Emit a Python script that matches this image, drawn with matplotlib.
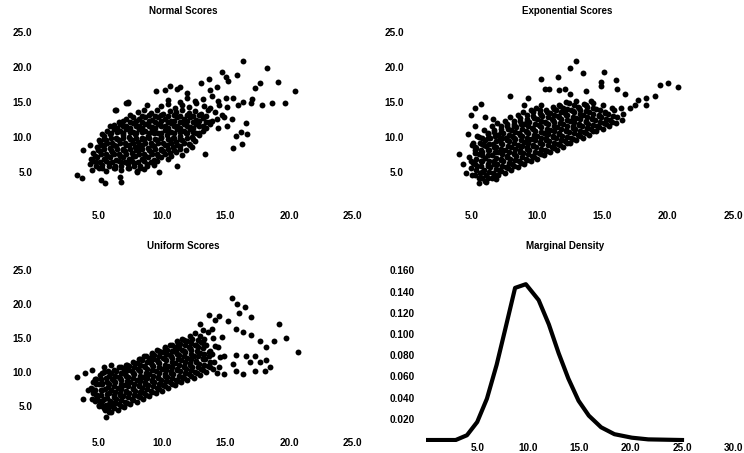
import numpy as np
import matplotlib.pyplot as plt

W, H = 744, 453

# points (outer scatter first, then the dense core)
normal_scores = [
    (16.4, 20.8), (18.3, 19.8), (14.7, 19.3), (19.1, 17.9), (20.5, 16.6), (15.9, 18.9),
    (15.0, 18.5), (15.2, 18.0), (13.7, 18.3), (17.7, 17.7), (17.3, 17.0), (14.3, 17.2),
    (13.1, 17.7), (11.4, 17.2), (11.2, 16.8), (10.6, 17.3), (9.5, 16.5), (10.2, 16.7),
    (13.8, 16.7), (12.0, 16.3), (17.1, 15.4), (16.4, 15.0), (17.9, 14.6), (18.7, 14.9),
    (19.7, 14.9), (17.0, 14.9), (15.6, 15.5), (16.0, 14.6), (7.3, 15.0), (7.3, 14.8),
    (6.4, 13.9), (5.9, 11.6), (5.3, 10.4), (5.0, 9.6), (3.8, 8.1), (4.3, 8.9),
    (3.3, 4.6), (3.7, 4.1), (5.5, 3.4), (5.2, 3.9), (6.7, 4.3), (6.8, 3.6),
    (8.0, 5.0), (9.8, 5.0), (11.2, 5.9), (13.4, 7.6), (15.6, 8.4), (16.3, 9.0),
    (15.8, 10.2), (16.7, 10.4), (16.2, 10.7), (16.6, 12.0), (15.5, 12.6), (15.1, 11.5),
    (12.0, 15.6), (12.6, 15.1), (13.2, 15.4), (13.9, 15.8), (14.4, 15.2), (11.4, 15.0),
    (10.5, 15.3), (15.0, 15.5),
    (9.9, 14.4), (10.5, 14.7), (11.0, 14.2), (11.6, 14.6), (12.1, 14.3), (12.7, 14.8),
    (13.3, 14.4), (13.8, 14.1), (14.5, 14.6), (15.1, 14.3), (7.2, 14.9), (8.8, 14.5),
    (8.1, 13.5), (8.6, 13.9), (9.1, 13.4), (9.6, 13.8), (10.1, 13.3), (10.6, 13.7),
    (11.1, 13.5), (11.6, 13.9), (12.1, 13.4), (12.6, 13.7), (13.1, 13.3), (13.6, 13.8),
    (14.2, 13.5), (14.7, 13.2), (7.5, 13.2), (6.3, 13.9),
    (7.2, 12.6), (7.7, 12.9), (8.2, 12.5), (8.7, 12.8), (9.2, 12.4), (9.7, 12.9),
    (10.2, 12.6), (10.7, 12.3), (11.2, 12.8), (11.7, 12.5), (12.2, 12.9), (12.7, 12.4),
    (13.2, 12.7), (13.7, 12.2), (14.3, 12.6), (14.9, 12.9), (6.6, 12.2),
    (6.2, 11.7), (6.7, 11.9), (7.2, 11.5), (7.7, 12.0), (8.2, 11.6), (8.7, 11.9),
    (9.2, 11.4), (9.7, 11.8), (10.2, 11.5), (10.7, 12.0), (11.2, 11.6), (11.7, 11.9),
    (12.2, 11.4), (12.7, 11.8), (13.2, 11.5), (13.8, 11.9), (14.4, 11.3),
    (5.7, 10.9), (6.2, 11.2), (6.7, 10.8), (7.2, 11.1), (7.7, 10.7), (8.2, 11.2),
    (8.7, 10.9), (9.2, 11.1), (9.7, 10.6), (10.2, 11.0), (10.7, 10.7), (11.2, 11.2),
    (11.7, 10.8), (12.2, 11.1), (12.7, 10.6), (13.2, 10.9),
    (5.4, 10.1), (5.9, 10.4), (6.4, 9.9), (6.9, 10.3), (7.4, 10.0), (7.9, 10.4),
    (8.4, 9.9), (8.9, 10.2), (9.4, 10.5), (9.9, 10.0), (10.4, 10.3), (10.9, 9.9),
    (11.4, 10.2), (11.9, 10.5), (12.4, 10.0), (12.9, 10.3),
    (5.1, 9.3), (5.6, 9.6), (6.1, 9.2), (6.6, 9.5), (7.1, 9.1), (7.6, 9.6),
    (8.1, 9.3), (8.6, 9.7), (9.1, 9.2), (9.6, 9.5), (10.1, 9.1), (10.6, 9.6),
    (11.1, 9.3), (11.6, 9.5), (12.1, 9.0), (12.6, 9.4),
    (4.9, 8.5), (5.4, 8.8), (5.9, 8.4), (6.4, 8.7), (6.9, 8.3), (7.4, 8.8),
    (7.9, 8.5), (8.4, 8.9), (8.9, 8.4), (9.4, 8.7), (9.9, 8.3), (10.4, 8.8),
    (10.9, 8.5), (11.4, 8.7), (11.9, 8.2), (12.4, 8.6),
    (4.6, 7.7), (5.1, 8.0), (5.6, 7.6), (6.1, 7.9), (6.6, 7.5), (7.1, 8.0),
    (7.6, 7.7), (8.1, 8.1), (8.6, 7.6), (9.1, 7.9), (9.6, 7.5), (10.1, 8.0),
    (10.6, 7.7), (11.1, 7.9), (11.6, 7.4),
    (4.4, 6.9), (4.9, 7.2), (5.4, 6.8), (5.9, 7.1), (6.4, 6.7), (6.9, 7.2),
    (7.4, 6.9), (7.9, 7.3), (8.4, 6.8), (8.9, 7.1), (9.4, 6.7), (9.9, 7.2), (10.5, 6.9),
    (4.3, 6.1), (4.8, 6.4), (5.3, 6.0), (5.8, 6.3), (6.3, 5.9), (6.8, 6.4),
    (7.3, 6.1), (7.8, 6.3), (8.3, 5.8), (8.8, 6.2), (9.4, 6.0),
    (4.5, 5.3), (5.0, 5.6), (5.6, 5.2), (6.2, 5.5), (6.8, 5.3), (7.4, 5.6),
    (8.0, 5.1), (8.6, 5.4),
]

# extra points inside the solid black middle of the normal cloud
normal_core_fill = [
    (8.45, 13.0), (8.95, 13.2), (9.45, 13.0), (9.95, 13.2), (10.45, 13.0), (10.95, 13.2),
    (11.45, 13.0), (11.95, 13.2), (12.45, 13.0), (12.95, 13.2), (13.45, 13.0),
    (6.95, 12.3), (7.45, 12.1), (7.95, 12.3), (8.45, 12.1), (8.95, 12.3), (9.45, 12.1),
    (9.95, 12.3), (10.45, 12.1), (10.95, 12.3), (11.45, 12.1), (11.95, 12.3), (12.45, 12.1),
    (12.95, 12.3), (13.45, 12.1), (13.95, 12.3),
    (6.45, 11.3), (6.95, 11.5), (7.45, 11.3), (7.95, 11.5), (8.45, 11.3), (8.95, 11.5),
    (9.45, 11.3), (9.95, 11.5), (10.45, 11.3), (10.95, 11.5), (11.45, 11.3), (11.95, 11.5),
    (12.45, 11.3), (12.95, 11.5), (13.45, 11.3),
    (5.95, 10.5), (6.45, 10.7), (6.95, 10.5), (7.45, 10.7), (7.95, 10.5), (8.45, 10.7),
    (8.95, 10.5), (9.45, 10.7), (9.95, 10.5), (10.45, 10.7), (10.95, 10.5), (11.45, 10.7),
    (11.95, 10.5), (12.45, 10.7), (12.95, 10.5),
    (5.45, 9.7), (5.95, 9.9), (6.45, 9.7), (6.95, 9.9), (7.45, 9.7), (7.95, 9.9),
    (8.45, 9.7), (8.95, 9.9), (9.45, 9.7), (9.95, 9.9), (10.45, 9.7), (10.95, 9.9),
    (11.45, 9.7), (11.95, 9.9), (12.45, 9.7),
    (5.2, 8.9), (5.7, 9.1), (6.2, 8.9), (6.7, 9.1), (7.2, 8.9), (7.7, 9.1), (8.2, 8.9),
    (8.7, 9.1), (9.2, 8.9), (9.7, 9.1), (10.2, 8.9), (10.7, 9.1), (11.2, 8.9), (11.7, 9.1),
    (12.2, 8.9),
    (4.95, 8.1), (5.45, 8.3), (5.95, 8.1), (6.45, 8.3), (6.95, 8.1), (7.45, 8.3),
    (7.95, 8.1), (8.45, 8.3), (8.95, 8.1), (9.45, 8.3), (9.95, 8.1), (10.45, 8.3),
    (10.95, 8.1), (11.45, 8.3),
    (4.7, 7.3), (5.2, 7.5), (5.7, 7.3), (6.2, 7.5), (6.7, 7.3), (7.2, 7.5), (7.7, 7.3),
    (8.2, 7.5), (8.7, 7.3), (9.2, 7.5), (9.7, 7.3), (10.2, 7.5), (10.7, 7.3),
    (4.6, 6.6), (5.1, 6.4), (5.6, 6.6), (6.1, 6.4), (6.6, 6.6), (7.1, 6.4), (7.6, 6.6),
    (8.1, 6.4), (8.6, 6.6), (9.1, 6.4), (9.6, 6.6),
    (4.8, 5.8), (5.3, 5.6), (5.8, 5.8), (6.3, 5.6), (6.8, 5.8), (7.3, 5.6), (7.8, 5.8),
    (8.3, 5.6), (8.8, 5.8),
]

exponential_scores = [
    (13.0, 20.8), (12.5, 19.8), (15.1, 19.3), (10.3, 18.3), (11.6, 18.6), (13.5, 19.1),
    (14.9, 17.9), (14.9, 17.3), (16.0, 18.1), (16.1, 16.8), (19.4, 17.4), (20.0, 17.7),
    (20.8, 17.2), (10.6, 16.8), (10.9, 16.8), (11.7, 16.7), (12.1, 16.9), (12.5, 16.2),
    (13.7, 16.6), (7.9, 15.9), (9.3, 15.6), (10.3, 14.6), (9.0, 14.6), (19.0, 15.8),
    (18.3, 15.6), (17.7, 15.3), (17.5, 14.6), (18.3, 14.6), (17.1, 14.1), (16.7, 16.2),
    (5.2, 14.2), (5.7, 14.7), (4.9, 13.2), (6.0, 12.9), (6.6, 12.6), (5.2, 11.5),
    (4.7, 10.4), (5.4, 10.2), (4.0, 7.5), (4.3, 6.1), (4.5, 4.8), (4.9, 6.5),
    (5.1, 9.2), (5.9, 8.8), (5.5, 3.4), (6.1, 3.6), (6.8, 4.0),
    (5.0, 4.6), (4.9, 5.5), (5.1, 6.3), (4.8, 7.2), (5.2, 8.1), (5.0, 8.9),
    (5.5, 4.1), (5.6, 4.9), (5.4, 5.8), (5.7, 6.6), (5.5, 7.5), (5.3, 8.4), (5.6, 9.2), (5.5, 10.0),
    (6.0, 3.7), (6.1, 4.5), (5.9, 5.3), (6.2, 6.2), (6.0, 7.0), (5.8, 7.9), (6.1, 8.7),
    (6.0, 9.6), (6.2, 10.4), (5.9, 11.0),
    (6.5, 4.1), (6.6, 4.9), (6.4, 5.7), (6.7, 6.5), (6.5, 7.4), (6.3, 8.2), (6.6, 9.0),
    (6.4, 9.9), (6.7, 10.7), (6.5, 11.5),
    (7.0, 4.5), (7.1, 5.3), (6.9, 6.1), (7.2, 6.9), (7.0, 7.8), (6.8, 8.6), (7.1, 9.5),
    (7.0, 10.3), (7.2, 11.1), (6.9, 12.0),
    (7.5, 4.9), (7.6, 5.7), (7.4, 6.5), (7.7, 7.3), (7.5, 8.1), (7.3, 9.0), (7.6, 9.8),
    (7.4, 10.6), (7.7, 11.5), (7.5, 12.3),
    (8.0, 5.3), (8.1, 6.1), (7.9, 6.9), (8.2, 7.7), (8.0, 8.5), (7.8, 9.4), (8.1, 10.2),
    (8.0, 11.0), (8.2, 11.9), (7.9, 12.8),
    (8.5, 5.7), (8.6, 6.5), (8.4, 7.3), (8.7, 8.1), (8.5, 8.9), (8.3, 9.7), (8.6, 10.6),
    (8.4, 11.4), (8.7, 12.3), (8.5, 13.2),
    (9.0, 6.1), (9.1, 6.9), (8.9, 7.7), (9.2, 8.5), (9.0, 9.3), (8.8, 10.1), (9.1, 10.9),
    (9.0, 11.8), (9.2, 12.6), (8.9, 13.5),
    (9.5, 6.5), (9.6, 7.3), (9.4, 8.1), (9.7, 8.9), (9.5, 9.7), (9.3, 10.5), (9.6, 11.3),
    (9.4, 12.2), (9.7, 13.0), (9.5, 13.8),
    (10.0, 6.9), (10.1, 7.7), (9.9, 8.5), (10.2, 9.3), (10.0, 10.1), (9.8, 10.9), (10.1, 11.7),
    (10.0, 12.5), (10.2, 13.4), (9.9, 14.2),
    (10.5, 7.4), (10.6, 8.2), (10.4, 9.0), (10.7, 9.8), (10.5, 10.6), (10.3, 11.4),
    (10.6, 12.2), (10.4, 13.0), (10.7, 13.8),
    (11.0, 7.8), (11.1, 8.6), (10.9, 9.4), (11.2, 10.2), (11.0, 11.0), (10.8, 11.8),
    (11.1, 12.6), (11.0, 13.4), (11.2, 14.3),
    (11.5, 8.2), (11.6, 9.0), (11.4, 9.8), (11.7, 10.6), (11.5, 11.4), (11.3, 12.2),
    (11.6, 13.0), (11.4, 13.8), (11.7, 14.6),
    (12.0, 8.6), (12.1, 9.4), (11.9, 10.2), (12.2, 11.0), (12.0, 11.8), (11.8, 12.6),
    (12.1, 13.4), (12.0, 14.2), (12.2, 15.0),
    (12.5, 9.1), (12.6, 9.9), (12.4, 10.7), (12.7, 11.5), (12.5, 12.3), (12.3, 13.1),
    (12.6, 13.9), (12.4, 14.8),
    (13.0, 9.5), (13.1, 10.3), (12.9, 11.1), (13.2, 11.9), (13.0, 12.7), (12.8, 13.5),
    (13.1, 14.3), (13.0, 15.1),
    (13.5, 9.9), (13.6, 10.7), (13.4, 11.5), (13.7, 12.3), (13.5, 13.1), (13.3, 13.9), (13.6, 14.7),
    (14.0, 10.3), (14.1, 11.1), (13.9, 11.9), (14.2, 12.7), (14.0, 13.5), (13.8, 14.3), (14.1, 15.1),
    (14.5, 10.8), (14.6, 11.6), (14.4, 12.4), (14.7, 13.2), (14.5, 14.0), (14.3, 14.8),
    (15.0, 11.2), (15.1, 12.0), (14.9, 12.8), (15.2, 13.6), (15.0, 14.5),
    (15.5, 11.6), (15.6, 12.4), (15.4, 13.3), (15.7, 14.2),
    (16.0, 12.0), (16.1, 12.9), (15.9, 13.8),
    (16.5, 12.4), (16.6, 13.3), (16.4, 14.1),
]

exponential_core_fill = [
    (5.25, 4.5), (5.3, 5.3), (5.2, 6.1), (5.3, 6.9), (5.25, 7.7), (5.2, 8.5),
    (5.75, 4.2), (5.8, 5.0), (5.7, 5.8), (5.8, 6.6), (5.75, 7.4), (5.7, 8.2), (5.8, 9.0), (5.75, 9.8),
    (6.25, 4.2), (6.3, 5.0), (6.2, 5.8), (6.3, 6.6), (6.25, 7.4), (6.2, 8.2), (6.3, 9.0),
    (6.25, 9.8), (6.2, 10.6),
    (6.75, 4.6), (6.8, 5.4), (6.7, 6.2), (6.8, 7.0), (6.75, 7.8), (6.7, 8.6), (6.8, 9.4),
    (6.75, 10.2), (6.7, 11.0),
    (7.25, 5.1), (7.3, 5.9), (7.2, 6.7), (7.3, 7.5), (7.25, 8.3), (7.2, 9.1), (7.3, 9.9),
    (7.25, 10.7), (7.2, 11.5),
    (7.75, 5.5), (7.8, 6.3), (7.7, 7.1), (7.8, 7.9), (7.75, 8.7), (7.7, 9.5), (7.8, 10.3),
    (7.75, 11.1), (7.7, 11.9),
    (8.25, 5.9), (8.3, 6.7), (8.2, 7.5), (8.3, 8.3), (8.25, 9.1), (8.2, 9.9), (8.3, 10.7),
    (8.25, 11.5), (8.2, 12.3),
    (8.75, 6.3), (8.8, 7.1), (8.7, 7.9), (8.8, 8.7), (8.75, 9.5), (8.7, 10.3), (8.8, 11.1),
    (8.75, 11.9), (8.7, 12.7),
    (9.25, 6.7), (9.3, 7.5), (9.2, 8.3), (9.3, 9.1), (9.25, 9.9), (9.2, 10.7), (9.3, 11.5),
    (9.25, 12.3), (9.2, 13.1),
    (9.75, 7.1), (9.8, 7.9), (9.7, 8.7), (9.8, 9.5), (9.75, 10.3), (9.7, 11.1), (9.8, 11.9),
    (9.75, 12.7), (9.7, 13.5),
    (10.25, 7.5), (10.3, 8.3), (10.2, 9.1), (10.3, 9.9), (10.25, 10.7), (10.2, 11.5),
    (10.3, 12.3), (10.25, 13.1), (10.2, 13.9),
    (10.75, 8.0), (10.8, 8.8), (10.7, 9.6), (10.8, 10.4), (10.75, 11.2), (10.7, 12.0),
    (10.8, 12.8), (10.75, 13.6),
    (11.25, 8.4), (11.3, 9.2), (11.2, 10.0), (11.3, 10.8), (11.25, 11.6), (11.2, 12.4),
    (11.3, 13.2), (11.25, 14.0),
    (11.75, 8.8), (11.8, 9.6), (11.7, 10.4), (11.8, 11.2), (11.75, 12.0), (11.7, 12.8),
    (11.8, 13.6), (11.75, 14.4),
    (12.25, 9.2), (12.3, 10.0), (12.2, 10.8), (12.3, 11.6), (12.25, 12.4), (12.2, 13.2), (12.3, 14.0),
    (12.75, 9.7), (12.8, 10.5), (12.7, 11.3), (12.8, 12.1), (12.75, 12.9), (12.7, 13.7), (12.8, 14.5),
    (13.25, 10.1), (13.3, 10.9), (13.2, 11.7), (13.3, 12.5), (13.25, 13.3), (13.2, 14.1),
    (13.75, 10.5), (13.8, 11.3), (13.7, 12.1), (13.8, 12.9), (13.75, 13.7), (13.7, 14.5),
    (14.25, 10.9), (14.3, 11.7), (14.2, 12.5), (14.3, 13.3), (14.25, 14.1),
    (14.75, 11.4), (14.8, 12.2), (14.7, 13.0), (14.8, 13.8),
    (15.25, 11.8), (15.3, 12.6), (15.2, 13.4),
    (15.75, 12.2), (15.8, 13.0),
]

uniform_scores = [
    (15.5, 20.9), (15.9, 19.9), (16.5, 19.5), (16.1, 18.7), (17.0, 18.1), (13.7, 18.4),
    (14.5, 18.2), (19.2, 17.1), (19.8, 15.0), (20.7, 13.0), (18.8, 14.6), (17.7, 14.6),
    (17.0, 15.4), (16.4, 15.9), (15.8, 16.3), (15.2, 17.4), (14.2, 17.6), (13.0, 17.1),
    (18.2, 13.6), (17.3, 12.4), (16.6, 12.3), (15.8, 12.5), (14.9, 12.4), (15.6, 11.2),
    (16.9, 11.5), (17.7, 11.5), (18.2, 11.7), (18.5, 10.7), (18.1, 10.2), (17.3, 10.2),
    (16.4, 9.7), (15.8, 10.2), (14.9, 9.7), (14.3, 9.9),
    (3.3, 9.3), (3.9, 9.8), (4.5, 10.3), (4.7, 8.9), (4.2, 7.4), (3.8, 6.0),
    (4.5, 7.6), (4.9, 6.4), (5.0, 5.2), (5.4, 4.7), (5.6, 3.4), (5.8, 4.2),
    (6.0, 5.7), (5.4, 10.8), (6.0, 11.0),
    (4.5, 6.1), (4.6, 6.9), (4.4, 7.7), (4.6, 8.5),
    (5.0, 5.0), (5.1, 5.8), (4.9, 6.6), (5.2, 7.4), (5.0, 8.2), (4.8, 9.0), (5.1, 9.6),
    (5.5, 4.4), (5.6, 5.2), (5.4, 6.0), (5.7, 6.8), (5.5, 7.6), (5.3, 8.4), (5.6, 9.2), (5.4, 10.0),
    (6.0, 4.2), (6.1, 5.0), (5.9, 5.8), (6.2, 6.6), (6.0, 7.4), (5.8, 8.2), (6.1, 9.0), (6.0, 9.8),
    (6.5, 4.5), (6.6, 5.3), (6.4, 6.1), (6.7, 6.9), (6.5, 7.7), (6.3, 8.5), (6.6, 9.3),
    (6.4, 10.1), (6.6, 10.8),
    (7.0, 4.9), (7.1, 5.7), (6.9, 6.5), (7.2, 7.3), (7.0, 8.1), (6.8, 8.9), (7.1, 9.7),
    (7.0, 10.5), (7.2, 11.1),
    (7.5, 5.3), (7.6, 6.1), (7.4, 6.9), (7.7, 7.7), (7.5, 8.5), (7.3, 9.3), (7.6, 10.1), (7.4, 10.9),
    (8.0, 5.7), (8.1, 6.5), (7.9, 7.3), (8.2, 8.1), (8.0, 8.9), (7.8, 9.7), (8.1, 10.5),
    (8.0, 11.3), (8.2, 11.9),
    (8.5, 6.1), (8.6, 6.9), (8.4, 7.7), (8.7, 8.5), (8.5, 9.3), (8.3, 10.1), (8.6, 10.9),
    (8.4, 11.7), (8.6, 12.4),
    (9.0, 6.5), (9.1, 7.3), (8.9, 8.1), (9.2, 8.9), (9.0, 9.7), (8.8, 10.5), (9.1, 11.3),
    (9.0, 12.1), (9.2, 12.8),
    (9.5, 6.9), (9.6, 7.7), (9.4, 8.5), (9.7, 9.3), (9.5, 10.1), (9.3, 10.9), (9.6, 11.7),
    (9.4, 12.5), (9.6, 13.3),
    (10.0, 7.3), (10.1, 8.1), (9.9, 8.9), (10.2, 9.7), (10.0, 10.5), (9.8, 11.3), (10.1, 12.1),
    (10.0, 12.9), (10.2, 13.6),
    (10.5, 7.7), (10.6, 8.5), (10.4, 9.3), (10.7, 10.1), (10.5, 10.9), (10.3, 11.7),
    (10.6, 12.5), (10.4, 13.3), (10.6, 14.0),
    (11.0, 8.1), (11.1, 8.9), (10.9, 9.7), (11.2, 10.5), (11.0, 11.3), (10.8, 12.1),
    (11.1, 12.9), (11.0, 13.7), (11.2, 14.5),
    (11.5, 8.5), (11.6, 9.3), (11.4, 10.1), (11.7, 10.9), (11.5, 11.7), (11.3, 12.5),
    (11.6, 13.3), (11.4, 14.1), (11.6, 14.8),
    (12.0, 8.9), (12.1, 9.7), (11.9, 10.5), (12.2, 11.3), (12.0, 12.1), (11.8, 12.9),
    (12.1, 13.7), (12.0, 14.5), (12.2, 15.3),
    (12.5, 9.2), (12.6, 10.0), (12.4, 10.8), (12.7, 11.6), (12.5, 12.4), (12.3, 13.2),
    (12.6, 14.0), (12.4, 14.8), (12.6, 15.7),
    (13.0, 9.6), (13.1, 10.4), (12.9, 11.2), (13.2, 12.0), (13.0, 12.8), (12.8, 13.6),
    (13.1, 14.4), (13.0, 15.3), (13.2, 16.2),
    (13.5, 10.0), (13.6, 10.9), (13.4, 11.9), (13.7, 12.9), (13.5, 13.9), (13.3, 14.9), (13.6, 15.8),
    (14.0, 10.4), (14.1, 11.5), (13.9, 12.7), (14.2, 13.8), (14.0, 15.0), (13.9, 16.3),
    (14.5, 10.8), (14.6, 12.2), (14.4, 13.6), (14.7, 15.1),
]

uniform_core_fill = [
    (4.75, 5.8), (4.8, 6.6), (4.7, 7.4), (4.8, 8.2), (4.75, 9.0),
    (5.25, 5.0), (5.3, 5.8), (5.2, 6.6), (5.3, 7.4), (5.25, 8.2), (5.2, 9.0), (5.3, 9.8),
    (5.75, 4.6), (5.8, 5.4), (5.7, 6.2), (5.8, 7.0), (5.75, 7.8), (5.7, 8.6), (5.8, 9.4), (5.75, 10.2),
    (6.25, 4.7), (6.3, 5.5), (6.2, 6.3), (6.3, 7.1), (6.25, 7.9), (6.2, 8.7), (6.3, 9.5), (6.25, 10.3),
    (6.75, 5.1), (6.8, 5.9), (6.7, 6.7), (6.8, 7.5), (6.75, 8.3), (6.7, 9.1), (6.8, 9.9), (6.75, 10.7),
    (7.25, 5.5), (7.3, 6.3), (7.2, 7.1), (7.3, 7.9), (7.25, 8.7), (7.2, 9.5), (7.3, 10.3), (7.25, 11.1),
    (7.75, 5.9), (7.8, 6.7), (7.7, 7.5), (7.8, 8.3), (7.75, 9.1), (7.7, 9.9), (7.8, 10.7), (7.75, 11.5),
    (8.25, 6.3), (8.3, 7.1), (8.2, 7.9), (8.3, 8.7), (8.25, 9.5), (8.2, 10.3), (8.3, 11.1), (8.25, 11.9),
    (8.75, 6.7), (8.8, 7.5), (8.7, 8.3), (8.8, 9.1), (8.75, 9.9), (8.7, 10.7), (8.8, 11.5), (8.75, 12.3),
    (9.25, 7.1), (9.3, 7.9), (9.2, 8.7), (9.3, 9.5), (9.25, 10.3), (9.2, 11.1), (9.3, 11.9), (9.25, 12.7),
    (9.75, 7.5), (9.8, 8.3), (9.7, 9.1), (9.8, 9.9), (9.75, 10.7), (9.7, 11.5), (9.8, 12.3), (9.75, 13.1),
    (10.25, 7.9), (10.3, 8.7), (10.2, 9.5), (10.3, 10.3), (10.25, 11.1), (10.2, 11.9),
    (10.3, 12.7), (10.25, 13.5),
    (10.75, 8.3), (10.8, 9.1), (10.7, 9.9), (10.8, 10.7), (10.75, 11.5), (10.7, 12.3),
    (10.8, 13.1), (10.75, 13.9),
    (11.25, 8.7), (11.3, 9.5), (11.2, 10.3), (11.3, 11.1), (11.25, 11.9), (11.2, 12.7),
    (11.3, 13.5), (11.25, 14.3),
    (11.75, 9.1), (11.8, 9.9), (11.7, 10.7), (11.8, 11.5), (11.75, 12.3), (11.7, 13.1),
    (11.8, 13.9), (11.75, 14.7),
    (12.25, 9.5), (12.3, 10.3), (12.2, 11.1), (12.3, 11.9), (12.25, 12.7), (12.2, 13.5), (12.3, 14.3),
    (12.75, 9.9), (12.8, 10.7), (12.7, 11.5), (12.8, 12.3), (12.75, 13.1), (12.7, 13.9), (12.8, 14.7),
    (13.25, 10.3), (13.3, 11.1), (13.2, 11.9), (13.3, 12.7), (13.25, 13.5), (13.2, 14.3),
    (13.75, 10.7), (13.8, 11.5), (13.7, 12.3), (13.8, 13.1),
]

density_x = [0.0, 2.9, 4.0, 5.0, 5.95, 6.9, 7.75, 8.7, 9.75, 11.0, 12.0, 12.95,
             13.9, 14.9, 15.9, 17.1, 18.4, 20.1, 21.7, 25.0]
density_y = [0.0, 0.0, 0.0045, 0.017, 0.039, 0.071, 0.105, 0.1435, 0.147, 0.132, 0.109,
             0.082, 0.058, 0.037, 0.023, 0.012, 0.0055, 0.0022, 0.0006, 0.0]

score_ticks = [5, 10, 15, 20, 25]
density_xticks = [5, 10, 15, 20, 25, 30]
density_yticks = [0.02, 0.04, 0.06, 0.08, 0.10, 0.12, 0.14, 0.16]

plt.rcParams['font.family'] = ['Liberation Sans', 'DejaVu Sans']
plt.rcParams['font.weight'] = 'bold'
plt.rcParams['font.size'] = 7

fig = plt.figure(figsize=(W / 100, H / 100), dpi=100)


def panel(left, right, top, bottom):
    # axes box given in pixels of the final image
    ax = fig.add_axes([left / W, 1 - bottom / H, (right - left) / W, (bottom - top) / H])
    for s in ax.spines.values():
        s.set_visible(False)
    ax.tick_params(length=0, labelsize=7.2)
    return ax


def scatter_panel(ax, pts, title, tx, ty, ylo):
    pts = np.array(pts)
    ax.scatter(pts[:, 0], pts[:, 1], s=18, c='black', marker='o', linewidths=0)
    ax.set_xlim(0, 25)
    ax.set_ylim(ylo, 25)
    ax.set_xticks(score_ticks)
    ax.set_yticks(score_ticks)
    ax.set_xticklabels([f"{t:.1f}" for t in score_ticks])
    ax.set_yticklabels([f"{t:.1f}" for t in score_ticks])
    ax.tick_params(axis='x', pad=1.5)
    ax.tick_params(axis='y', pad=2)
    fig.text(tx / W, 1 - ty / H, title, ha='center', va='center', fontweight='bold', fontsize=7)


ax1 = panel(35, 352.5, 32, 209)
scatter_panel(ax1, normal_scores + normal_core_fill, "Normal Scores", 183, 11, -0.29)

ax2 = panel(406.8, 733, 32, 209)
scatter_panel(ax2, exponential_scores + exponential_core_fill, "Exponential Scores", 567, 11, -0.29)

ax3 = panel(35, 352.5, 269.5, 436)
scatter_panel(ax3, uniform_scores + uniform_core_fill, "Uniform Scores", 183, 246, 0.66)

ax4 = panel(426, 733.2, 270.4, 441.5)
ax4.plot(density_x, density_y, color='black', lw=3, solid_joinstyle='round')
ax4.set_xlim(0, 30)
ax4.set_ylim(-0.0014, 0.16)
ax4.set_xticks(density_xticks)
ax4.set_yticks(density_yticks)
ax4.set_xticklabels([f"{t:.1f}" for t in density_xticks])
ax4.set_yticklabels([f"{t:.3f}" for t in density_yticks])
ax4.tick_params(axis='x', pad=1)
ax4.tick_params(axis='y', pad=8)
fig.text(565 / W, 1 - 246 / H, "Marginal Density", ha='center', va='center', fontweight='bold', fontsize=7)

fig.savefig("out.png", dpi=100, facecolor='white')
